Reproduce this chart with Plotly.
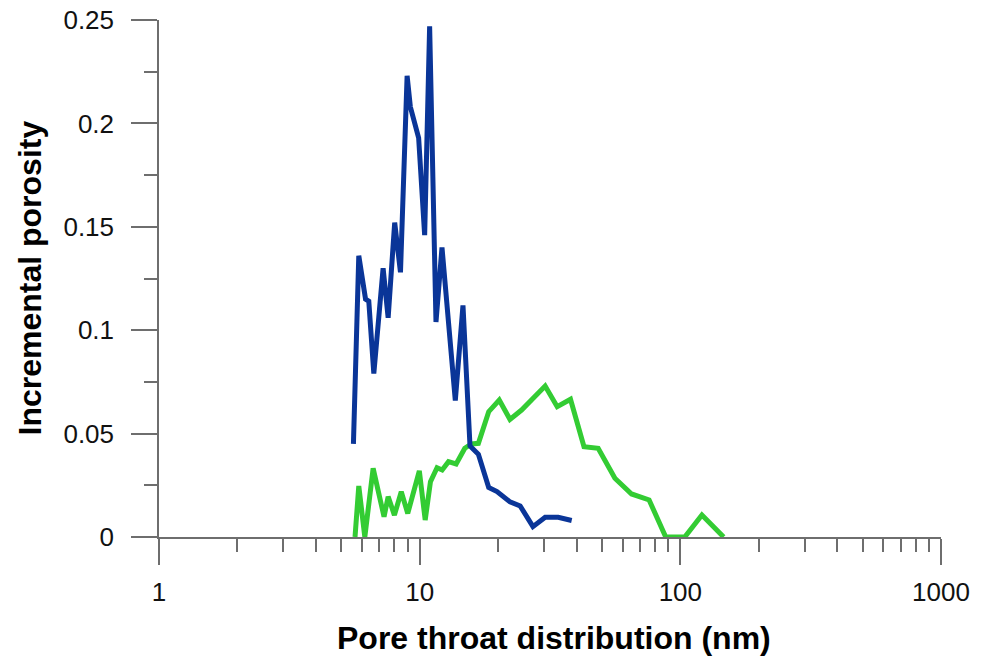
import plotly.graph_objects as go

# ---- data ----
blue_x = [5.57, 5.84, 6.2, 6.38, 6.67, 7.24, 7.57, 8.02, 8.44, 8.95, 9.21, 9.91, 10.45, 10.92,
          11.55, 12.18, 13.7, 14.66, 15.6, 16.8, 18.4, 19.8, 22.2, 24.3, 27.2, 30.3, 34.0, 38.3]
blue_y = [0.045, 0.136, 0.115, 0.114, 0.079, 0.130, 0.106, 0.152, 0.128, 0.223, 0.208, 0.193, 0.146, 0.247,
          0.104, 0.140, 0.066, 0.112, 0.044, 0.040, 0.024, 0.022, 0.017, 0.015, 0.005, 0.0095, 0.0095, 0.008]

green_x = [5.65, 5.84, 6.16, 6.63, 7.3, 7.57, 8.0, 8.5, 9.0, 9.97, 10.5, 11.0, 11.66, 12.2, 12.9, 13.8,
           14.9, 15.8, 16.8, 18.4, 20.2, 22.2, 24.6, 30.3, 33.7, 37.9, 42.7, 48.4, 56.1, 65.0, 75.9,
           87.9, 104, 121, 146.6]
green_y = [0, 0.0247, 0, 0.0332, 0.0098, 0.0195, 0.0106, 0.0219, 0.0114, 0.032, 0.0082, 0.0267, 0.0335,
           0.0324, 0.0364, 0.0353, 0.0429, 0.045, 0.0453, 0.0606, 0.0662, 0.0569, 0.0614, 0.073, 0.063,
           0.0666, 0.0437, 0.0429, 0.0284, 0.0208, 0.0179, 0, 0, 0.0106, 0]

x_major = [1, 10, 100, 1000]
x_major_text = ["1", "10", "100", "1000"]
x_minor = [m * d for d in (1, 10, 100) for m in range(2, 10)]
y_major = [0, 0.05, 0.1, 0.15, 0.2, 0.25]
y_major_text = ["0", "0.05", "0.1", "0.15", "0.2", "0.25"]
y_minor = [0.025, 0.075, 0.125, 0.175, 0.225]

x_title = "Pore throat distribution (nm)"
y_title = "Incremental porosity"

FONT = "Liberation Sans, Arial, sans-serif"
AXIS_COLOR = "#6e6e6e"

fig = go.Figure()
fig.add_trace(go.Scatter(x=green_x, y=green_y, mode="lines",
                         line=dict(color="#33cc33", width=5), showlegend=False))
fig.add_trace(go.Scatter(x=blue_x, y=blue_y, mode="lines",
                         line=dict(color="#0a3598", width=5), showlegend=False))

fig.update_layout(
    width=973, height=651,
    margin=dict(l=151, r=40, t=12, b=122, pad=0),
    plot_bgcolor="white", paper_bgcolor="white",
    font=dict(family=FONT, color="#111111", size=26),
    xaxis=dict(
        type="log", range=[0, 3], showgrid=False, zeroline=False,
        showline=True, linecolor=AXIS_COLOR, linewidth=1.5,
        ticks="outside", ticklen=26, tickwidth=1.5, tickcolor=AXIS_COLOR,
        tickmode="array", tickvals=x_major, ticktext=x_major_text,
        ticklabelstandoff=5, ticklabeloverflow="allow",
        minor=dict(tickmode="array", tickvals=x_minor, ticks="outside",
                   ticklen=13, tickwidth=1.5, tickcolor=AXIS_COLOR, showgrid=False),
        tickfont=dict(size=26, family=FONT, color="#111111"),
        automargin=False, layer="below traces",
    ),
    yaxis=dict(
        range=[0, 0.25], showgrid=False, zeroline=False,
        showline=True, linecolor=AXIS_COLOR, linewidth=1.5,
        ticks="outside", ticklen=26, tickwidth=1.5, tickcolor=AXIS_COLOR,
        tickmode="array", tickvals=y_major, ticktext=y_major_text,
        ticklabelstandoff=12, ticklabeloverflow="allow",
        minor=dict(tickmode="array", tickvals=y_minor, ticks="outside",
                   ticklen=13, tickwidth=1.5, tickcolor=AXIS_COLOR, showgrid=False),
        tickfont=dict(size=26, family=FONT, color="#111111"),
        automargin=False, layer="below traces",
    ),
    annotations=[
        dict(text="<b>" + x_title + "</b>", xref="paper", yref="paper", x=0.5, y=0,
             xanchor="center", yanchor="middle", xshift=4, yshift=-101, showarrow=False,
             font=dict(size=32, family=FONT, color="#000000")),
        dict(text="<b>" + y_title + "</b>", xref="paper", yref="paper", x=0, y=0.5,
             xanchor="center", yanchor="middle", xshift=-130, yshift=0, textangle=-90,
             showarrow=False, font=dict(size=32, family=FONT, color="#000000")),
    ],
)

fig.write_html("out.html")
